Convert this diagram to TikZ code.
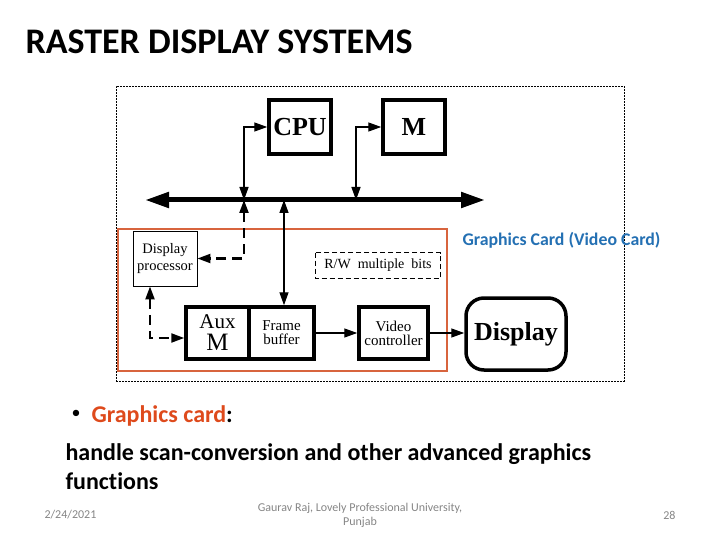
\documentclass[tikz,border=0pt]{standalone}
\usepackage{fontspec}
\setmainfont{Carlito}[Ligatures=NoCommon]
\newfontfamily\diagfont{Liberation Serif}
\usetikzlibrary{arrows.meta, positioning}
\definecolor{cardframe}{HTML}{D8643E}
\definecolor{cardblue}{HTML}{2470B3}
\definecolor{keyred}{HTML}{DE4A1C}
\definecolor{footgray}{HTML}{858585}

\begin{document}
\begin{tikzpicture}[
  x=1pt, y=-1pt,
  >={Triangle[length=13pt, width=9pt]},
  unit/.style={
    draw, line width=3.5pt, inner sep=0pt, align=center,
    font=\diagfont\fontsize{15}{14}\selectfont
  },
  thinbox/.style={
    draw, line width=0.9pt, inner sep=0pt, align=center,
    font=\diagfont\fontsize{14.5}{17}\selectfont
  },
  link/.style={<->, line width=1.4pt},
  dlink/.style={<->, line width=2.2pt, dash pattern=on 10pt off 6pt},
  flow/.style={->, line width=1.4pt},
  foot/.style={font=\fontsize{12}{14}\selectfont, text=footgray, align=center},
]
\useasboundingbox (0,0) rectangle (720,540);

% Title
\node[font=\fontsize{36}{40}\selectfont\bfseries, anchor=west] (title) at (22,42) {RASTER DISPLAY SYSTEMS};

% Frames
\node[draw, line width=0.6pt, dash pattern=on 2pt off 1pt, minimum width=508, minimum height=295, inner sep=0pt] (outer) at (370,233.5) {};
\node[draw=cardframe, line width=1.1pt, minimum width=329, minimum height=142, inner sep=0pt] (card) at (282.5,300) {};
\node[font=\fontsize{17.8}{20}\selectfont\bfseries, text=cardblue, anchor=west] (cardlabel) at (459,240) {Graphics Card (Video Card)};

% Host side
\node[unit, minimum width=62, minimum height=54, font=\diagfont\fontsize{26}{28}\selectfont\bfseries] (cpu) at (300,127) {CPU};
\node[unit, minimum width=62, minimum height=54, font=\diagfont\fontsize{26}{28}\selectfont\bfseries] (mem) at (414,127) {M};

% Bus
\coordinate (busl) at (145,200);
\coordinate (busr) at (485,200);
\coordinate (buscpu) at (244,200);
\coordinate (busmem) at (356,200);
\coordinate (busfb) at (284,200);
\draw[{Triangle[length=24pt, width=15pt]}-{Triangle[length=24pt, width=15pt]}, line width=5pt] (busl) -- (busr);

\draw[link] (buscpu) |- (cpu.west);
\draw[link] (busmem) |- (mem.west);

% Card side
\node[thinbox, minimum width=64, minimum height=55] (dp) at (165,258.5) {Display\\processor};
\node[thinbox, draw=none, minimum width=124, minimum height=25, font=\diagfont\fontsize{14}{16}\selectfont] (rw) at (378,265.5) {R/W\ \ multiple\ \ bits};
\draw[line width=1pt, dash pattern=on 5pt off 3pt] (rw.north west) rectangle (rw.south east);

\node[unit, minimum width=63, minimum height=52, font=\diagfont\fontsize{21}{22}\selectfont] (aux) at (217.5,333) {Aux\\{\fontsize{25}{22}\selectfont M}};
\node[unit, minimum width=65, minimum height=52] (fb) at (281.5,333) {Frame\\buffer};
\node[unit, minimum width=69, minimum height=52] (vc) at (393.5,333) {Video\\controller};
\node[unit, rounded corners=18pt, minimum width=100, minimum height=72, font=\diagfont\fontsize{26}{28}\selectfont\bfseries] (disp) at (516,334) {Display};

\draw[dlink] (buscpu) |- (dp.east);
\draw[link] (busfb) -- (busfb |- fb.north);
\draw[dlink] ([xshift=-15pt]dp.south) |- ([yshift=-5pt]aux.west);
\draw[flow] (fb.east) -- (vc.west);
\draw[flow] (vc.east) -- (vc.east -| disp.west);

% Bullet text
\node[font=\fontsize{18}{22}\selectfont] (bullet) at (76,414) {•};
\node[font=\fontsize{24}{28}\selectfont\bfseries, anchor=west] (key) at (88,416) {\textcolor{keyred}{Graphics card}:};
\node[font=\fontsize{24}{29}\selectfont\bfseries, anchor=north west, align=left] (body) at (62,440) {handle scan-conversion and other advanced graphics\\functions};

% Footer
\node[foot, anchor=west] (date) at (41,515) {2/24/2021};
\node[foot] (author) at (360,515) {Gaurav Raj, Lovely Professional University,\\Punjab};
\node[foot, anchor=east] (page) at (679,515) {28};

\end{tikzpicture}
\end{document}
